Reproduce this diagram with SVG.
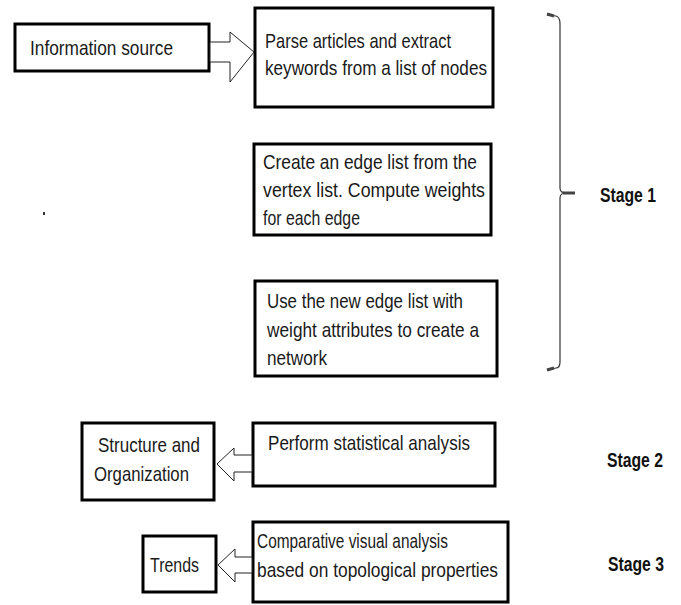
<svg xmlns="http://www.w3.org/2000/svg" width="681" height="605" viewBox="0 0 681 605">
<defs>
<style>
.box{fill:#fff;stroke:#000;stroke-width:3}
.t{font-family:"Liberation Sans",Arial,sans-serif;font-size:21px;fill:#1a1a1a}
.s{font-family:"Liberation Sans",Arial,sans-serif;font-size:20px;font-weight:bold;fill:#111}
.arr{fill:#fff;stroke:#222;stroke-width:1}
</style>
</defs>
<rect width="681" height="605" fill="#fff"/>
<g id="info">
<rect class="box" x="15" y="24" width="194" height="47"/>
<text class="t" x="30" y="55" textLength="143" lengthAdjust="spacingAndGlyphs">Information source</text>
</g>
<g id="parse">
<rect class="box" x="255" y="8" width="238" height="99"/>
<text class="t" x="265" y="48" textLength="186" lengthAdjust="spacingAndGlyphs">Parse articles and extract</text>
<text class="t" x="265" y="75" textLength="222" lengthAdjust="spacingAndGlyphs">keywords from a list of nodes</text>
</g>
<g id="edgelist">
<rect class="box" x="254" y="144" width="237" height="91"/>
<text class="t" x="263" y="169" textLength="214" lengthAdjust="spacingAndGlyphs">Create an edge list from the</text>
<text class="t" x="263" y="197" textLength="222" lengthAdjust="spacingAndGlyphs">vertex list. Compute weights</text>
<text class="t" x="263" y="225" textLength="97" lengthAdjust="spacingAndGlyphs">for each edge</text>
</g>
<g id="network">
<rect class="box" x="255" y="281" width="242" height="95"/>
<text class="t" x="267" y="308" textLength="196" lengthAdjust="spacingAndGlyphs">Use the new edge list with</text>
<text class="t" x="267" y="337" textLength="212" lengthAdjust="spacingAndGlyphs">weight attributes to create a</text>
<text class="t" x="267" y="365" textLength="60" lengthAdjust="spacingAndGlyphs">network</text>
</g>
<g id="structure">
<rect class="box" x="82" y="423" width="132" height="77"/>
<text class="t" x="98" y="452" textLength="102" lengthAdjust="spacingAndGlyphs">Structure and</text>
<text class="t" x="94" y="481" textLength="95" lengthAdjust="spacingAndGlyphs">Organization</text>
</g>
<g id="perform">
<rect class="box" x="253" y="423" width="242" height="63"/>
<text class="t" x="268" y="450" textLength="202" lengthAdjust="spacingAndGlyphs">Perform statistical analysis</text>
</g>
<g id="trends">
<rect class="box" x="143" y="536" width="73" height="56"/>
<text class="t" x="150" y="572" textLength="49" lengthAdjust="spacingAndGlyphs">Trends</text>
</g>
<g id="comparative">
<rect class="box" x="253" y="522" width="255" height="80"/>
<text class="t" x="257" y="548" textLength="191" lengthAdjust="spacingAndGlyphs">Comparative visual analysis</text>
<text class="t" x="257" y="577" textLength="241" lengthAdjust="spacingAndGlyphs">based on topological properties</text>
</g>
<g id="stages">
<text class="s" x="600" y="202" textLength="56" lengthAdjust="spacingAndGlyphs">Stage 1</text>
<text class="s" x="607" y="467" textLength="56" lengthAdjust="spacingAndGlyphs">Stage 2</text>
<text class="s" x="608" y="571" textLength="56" lengthAdjust="spacingAndGlyphs">Stage 3</text>
</g>
<g id="connectors">
<polygon class="arr" points="210,42 230,42 230,32 254,52 230,82 230,62 210,62"/>
<polygon class="arr" points="252,455 234,455 234,448 217,464 234,481 234,472 252,472"/>
<polygon class="arr" points="252,557 235,557 235,549 218,565 235,582 235,573 252,573"/>
<path d="M547,15 L556,16 Q560,17 560,24 L560,188 Q560,193 566,193 Q560,193 560,198 L560,362 Q560,368 556,368 L547,370" fill="none" stroke="#333" stroke-width="1.2"/>
<path d="M547,14 L554,16 M547,370 L554,368 M563,193 L575,193" fill="none" stroke="#444" stroke-width="3"/>
<rect x="43" y="212" width="2" height="3" fill="#333"/>
</g>
</svg>
